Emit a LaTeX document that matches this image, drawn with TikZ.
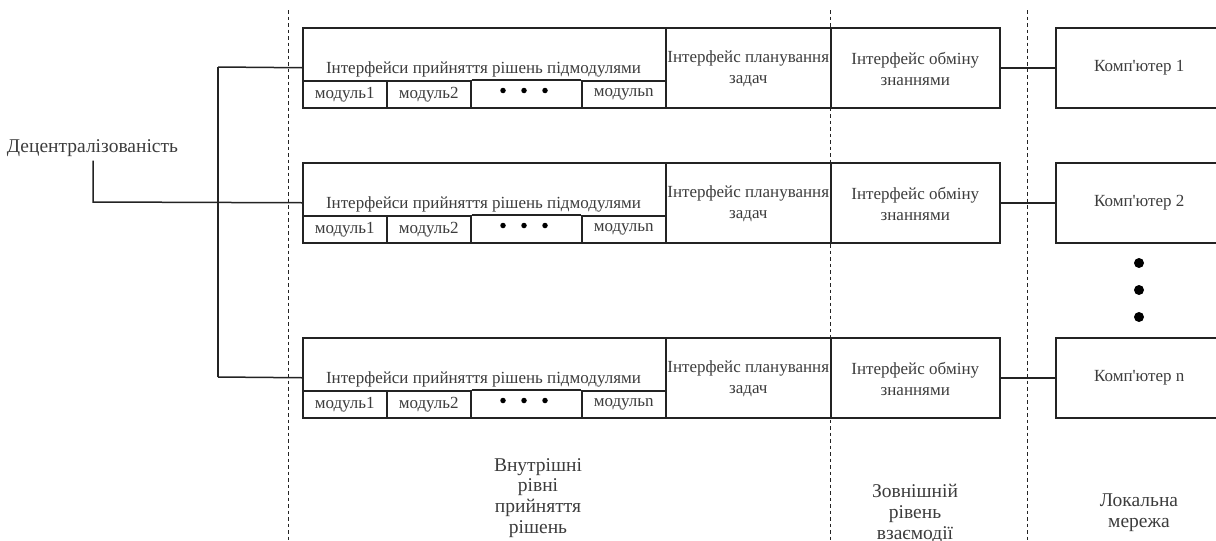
\documentclass[tikz,border=0pt]{standalone}
\usepackage{fontspec}
\setmainfont{Liberation Serif}[Ligatures=TeXOff]
\definecolor{ink}{RGB}{35,35,35}
\definecolor{txt}{RGB}{60,60,60}
\tikzset{
  every picture/.style={x=1pt,y=-1pt},
  box/.style={draw=ink, line width=1.5pt, rectangle, inner sep=0pt, anchor=north west},
  lbl/.style={text=txt, font=\fontsize{17}{20.5}\selectfont, inner sep=0pt, align=center},
  biglbl/.style={text=txt, font=\fontsize{19.5}{20.8}\selectfont, inner sep=0pt, align=center},
  conn/.style={draw=ink, line width=1.5pt},
  sep/.style={draw=ink, line width=1pt, dash pattern=on 3.5pt off 3pt},
  dot/.style={circle, fill=black, inner sep=0pt}
}
\begin{document}
\begin{tikzpicture}
\useasboundingbox (0,0) rectangle (1216,541);
\clip (0,0) rectangle (1216,541);
% separators
\coordinate (s1t) at (288,10); \coordinate (s1b) at (288,541);
\coordinate (s2t) at (830,10); \coordinate (s2b) at (830,541);
\coordinate (s3t) at (1027,10); \coordinate (s3b) at (1027,541);
\draw[sep] (s1t) -- (s1b);
\draw[sep] (s2t) -- (s2b);
\draw[sep] (s3t) -- (s3b);
% rows
\foreach \r/\T/\c in {1/27/1, 2/162/2, 3/337/n} {
  \node[box, minimum width=363, minimum height=80] (main\r) at (302,\T) {};
  \node[box, minimum width=84, minimum height=27] (ma\r) at (302,\T+53) {};
  \node[box, minimum width=84, minimum height=27] (mb\r) at (386,\T+53) {};
  \node[box, minimum width=84, minimum height=27] (mn\r) at (581,\T+53) {};
  \node[lbl] at (ma\r.center) {модуль1};
  \node[lbl] at (mb\r.center) {модуль2};
  \node[lbl] at (mn\r.center) {модульn};
  \draw[conn] (mb\r.north east) -- (mn\r.north west);
  \node[lbl] (hd\r) at (483.5,\T+42) {Інтерфейси прийняття рішень підмодулями};
  \node[dot, minimum size=5.5] (d\r a) at (503,\T+63.5) {};
  \node[dot, minimum size=5.5] (d\r b) at (524,\T+63.5) {};
  \node[dot, minimum size=5.5] (d\r c) at (545,\T+63.5) {};
  \node[box, minimum width=165, minimum height=80] (pl\r) at (665,\T) {};
  \node[lbl] at ([yshift=-1]pl\r.center) {Інтерфейс планування\\задач};
  \node[box, minimum width=169, minimum height=80] (ex\r) at (830,\T) {};
  \node[lbl] at ([yshift=-1]ex\r.center) {Інтерфейс обміну\\знаннями};
  \node[box, minimum width=167, minimum height=80] (pc\r) at (1055,\T) {};
  \node[lbl] at (pc\r.center) {Комп'ютер \c};
  \draw[conn] (ex\r.east) -- (pc\r.west);
}
% bus
\coordinate (bt) at (218,67);
\coordinate (bb) at (218,377);
\draw[conn] (bt) -- (bb);
\draw[conn] (bt) -- (main1.west);
\draw[conn] (bb) -- (main3.west);
\node[biglbl] (dec) at (92.5,148) {Децентралізованість};
\coordinate (dk) at (93,202);
\draw[conn] (dec.south -| dk) ++(0,4) -- (dk) -- (main2.west);
% vertical dots
\node[dot, minimum size=10] (v1) at (1139,263) {};
\node[dot, minimum size=10] (v2) at (1139,290) {};
\node[dot, minimum size=10] (v3) at (1139,317) {};
% bottom labels
\node[biglbl] (l1) at (538,498) {Внутрішні\\рівні\\прийняття\\рішень};
\node[biglbl] (l2) at (915,514) {Зовнішній\\рівень\\взаємодії};
\node[biglbl] (l3) at (1139,513) {Локальна\\мережа};
\end{tikzpicture}
\end{document}
